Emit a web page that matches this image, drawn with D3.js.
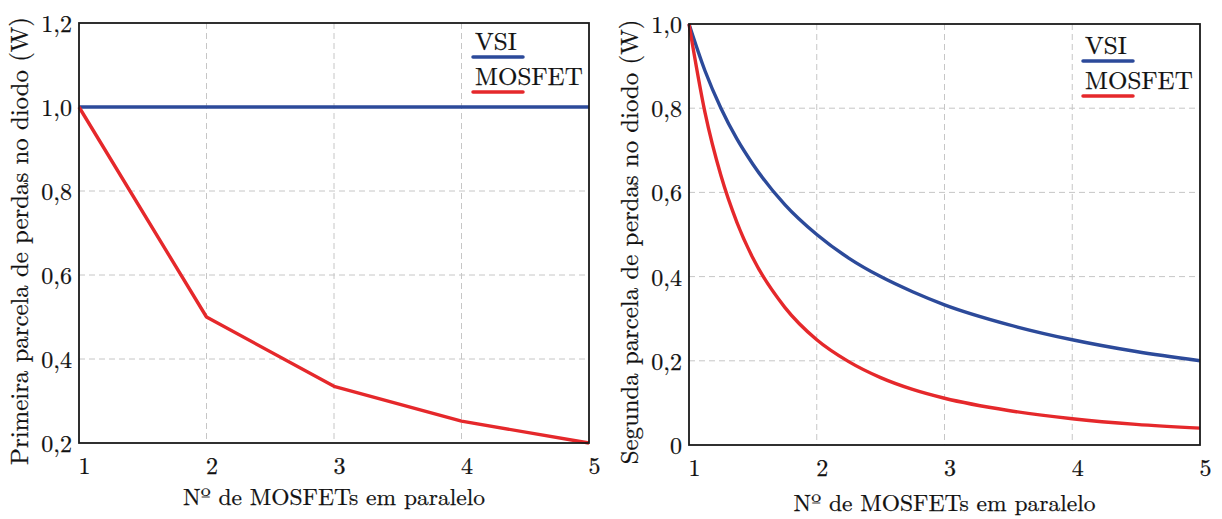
<!DOCTYPE html>
<html><head><meta charset="utf-8">
<script src="https://cdn.jsdelivr.net/npm/d3@7"></script>
<style>body{margin:0;background:#fff}svg{display:block}svg text{stroke:#111;stroke-width:0.25px}</style>
</head><body>
<svg id="chart" width="1222" height="519"></svg>
<script>
// ---- data ----
const xTicks = [1, 2, 3, 4, 5];
const xTickLabels = ["1", "2", "3", "4", "5"];
// left panel
const leftX = [1, 2, 3, 4, 5];
const leftVSI = [1.0, 1.0, 1.0, 1.0, 1.0];
const leftMOSFET = [1.0, 0.5, 0.335, 0.252, 0.2];
const leftYTicks = [0.2, 0.4, 0.6, 0.8, 1.0, 1.2];
const leftYTickLabels = ["0,2", "0,4", "0,6", "0,8", "1,0", "1,2"];
// right panel
const rightX = [1, 1.125, 1.25, 1.375, 1.5, 1.75, 2, 2.25, 2.5, 2.75, 3, 3.5, 4, 4.5, 5];
const rightVSI = [1.0, 0.889, 0.8, 0.727, 0.667, 0.571, 0.5, 0.444, 0.4, 0.364, 0.333, 0.286, 0.25, 0.222, 0.2];
const rightMOSFET = [1.0, 0.79, 0.64, 0.529, 0.444, 0.327, 0.25, 0.198, 0.16, 0.132, 0.111, 0.082, 0.0625, 0.049, 0.04];
const rightYTicks = [0, 0.2, 0.4, 0.6, 0.8, 1.0];
const rightYTickLabels = ["0", "0,2", "0,4", "0,6", "0,8", "1,0"];
const seriesNames = ["VSI", "MOSFET"];
const xTitle = "Nº de MOSFETs em paralelo";
const leftYTitle = "Primeira parcela de perdas no diodo (W)";
const rightYTitle = "Segunda parcela de perdas no diodo (W)";

const colors = {VSI: "#2c4a9a", MOSFET: "#e5282b"};
const FONT = '"Latin Modern Roman", "CMU Serif", "Liberation Serif", serif';
const TXT = "#111";
const svg = d3.select("#chart");

function panel(o) {
  const x = d3.scaleLinear().domain([1, 5]).range([o.x0, o.x1]);
  const y = d3.scaleLinear().domain(o.yDomain).range([o.y1, o.y0]);
  const g = svg.append("g");
  // grid
  g.selectAll(".gx").data(xTicks.slice(1, -1)).join("line")
    .attr("x1", d => x(d)).attr("x2", d => x(d)).attr("y1", o.y0).attr("y2", o.y1)
    .attr("stroke", "#c6c6c6").attr("stroke-width", 1).attr("stroke-dasharray", "6,4");
  g.selectAll(".gy").data(o.yTicks.slice(1, -1)).join("line")
    .attr("x1", o.x0).attr("x2", o.x1).attr("y1", d => y(d)).attr("y2", d => y(d))
    .attr("stroke", "#c6c6c6").attr("stroke-width", 1).attr("stroke-dasharray", "6,4");
  // series
  const line = d3.line().x(d => x(d[0])).y(d => y(d[1])).curve(o.curve);
  [["VSI", o.vsi], ["MOSFET", o.mos]].forEach(([name, vals]) => {
    g.append("path").datum(o.xs.map((v, i) => [v, vals[i]]))
      .attr("d", line).attr("fill", "none").attr("stroke", colors[name])
      .attr("stroke-width", 3.4).attr("stroke-linejoin", "round");
  });
  // frame
  g.append("rect").attr("x", o.x0).attr("y", o.y0).attr("width", o.x1 - o.x0).attr("height", o.y1 - o.y0)
    .attr("fill", "none").attr("stroke", "#1a1a1a").attr("stroke-width", 1.8);
  // axes labels (no tick marks)
  const xa = d3.axisBottom(x).tickValues(xTicks).tickFormat((d, i) => xTickLabels[i]).tickSize(0).tickPadding(0);
  const gx = g.append("g").attr("transform", `translate(5,${o.y1})`).call(xa);
  gx.attr("font-family", FONT).attr("font-size", 24);
  gx.select(".domain").remove();
  gx.selectAll("text").attr("fill", TXT).attr("dy", null).attr("y", 31);
  const ya = d3.axisLeft(y).tickValues(o.yTicks).tickFormat((d, i) => o.yTickLabels[i]).tickSize(0).tickPadding(0);
  const gy = g.append("g").attr("transform", `translate(${o.x0 - 7},0)`).call(ya);
  gy.attr("font-family", FONT).attr("font-size", 24);
  gy.select(".domain").remove();
  gy.selectAll("text").attr("fill", TXT).attr("dy", "0.35em");
  // titles
  g.append("text").attr("x", (o.x0 + o.x1) / 2).attr("y", o.xTitleY).attr("text-anchor", "middle")
    .attr("font-family", FONT).attr("font-size", 23.5).attr("fill", TXT).text(xTitle);
  g.append("text").attr("transform", `translate(${o.yTitleX},${o.yTitleMid}) rotate(-90)`)
    .attr("text-anchor", "middle").attr("font-family", FONT).attr("font-size", 24.8)
    .attr("fill", TXT).text(o.yTitle);
  // legend
  seriesNames.forEach((name, i) => {
    const ly = o.legY + i * 35;
    g.append("text").attr("x", o.legX).attr("y", ly).attr("font-family", FONT).attr("font-size", 25)
      .attr("fill", TXT).text(name);
    g.append("line").attr("x1", o.legX - 2).attr("x2", o.legX + 48).attr("y1", ly + 7).attr("y2", ly + 7)
      .attr("stroke", colors[name]).attr("stroke-width", 3.5).attr("stroke-linecap", "round");
  });
}

panel({x0: 79, x1: 589, y0: 23, y1: 443, yDomain: [0.2, 1.2], yTicks: leftYTicks, yTickLabels: leftYTickLabels,
  xs: leftX, vsi: leftVSI, mos: leftMOSFET, curve: d3.curveLinear, xTitleY: 505, yTitleX: 28, yTitleMid: 241,
  yTitle: leftYTitle, legX: 475, legY: 50});
panel({x0: 689, x1: 1200, y0: 24, y1: 445, yDomain: [0, 1.0], yTicks: rightYTicks, yTickLabels: rightYTickLabels,
  xs: rightX, vsi: rightVSI, mos: rightMOSFET, curve: d3.curveMonotoneX, xTitleY: 511, yTitleX: 638, yTitleMid: 242,
  yTitle: rightYTitle, legX: 1085, legY: 54});
</script>
</body></html>
